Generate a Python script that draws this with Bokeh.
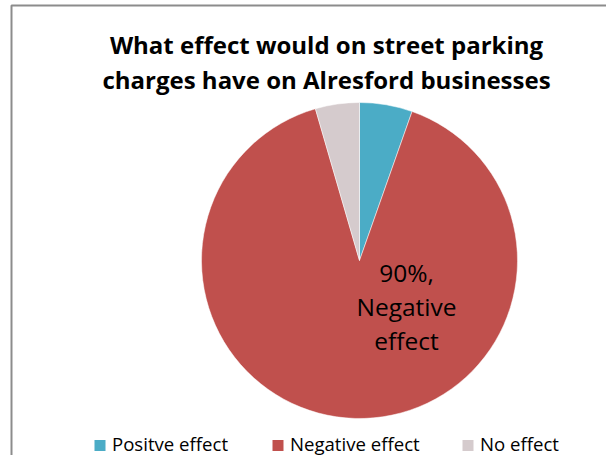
import math
from bokeh.plotting import figure
from bokeh.models import Range1d, ColumnDataSource
from bokeh.core.properties import value
from bokeh.embed import file_html
from bokeh.resources import INLINE

# ---- data ----
categories = ["Positve effect", "Negative effect", "No effect"]
shares = [5.4, 90.1, 4.5]
colors = ["#4BACC6", "#C0504D", "#D5CBCD"]
title_lines = ["What effect would on street parking", "charges have on Alresford businesses"]
slice_label = ["90%,", "Negative", "effect"]

W, H = 606, 455
def Y(py):  # screen y -> data y
    return H - py
def X(px):
    return px

p = figure(width=W, height=H, x_range=Range1d(0, W), y_range=Range1d(0, H),
           output_backend="svg", toolbar_location=None, min_border=0)
p.axis.visible = False
p.grid.visible = False
p.outline_line_color = None
p.background_fill_color = "white"

# chart border (left and top)
p.line([X(11), X(11), W + 5], [-5, Y(5), Y(5)], line_color="#8c8c8c", line_width=2)

# pie
total = sum(shares)
starts, ends = [], []
a = math.pi / 2
for s in shares:
    starts.append(a)
    a -= s / total * 2 * math.pi
    ends.append(a)
cx, cy, r = X(359), Y(260), 158
src = ColumnDataSource(dict(start=starts, end=ends, color=colors, cat=categories))
p.wedge(x=cx, y=cy, radius=r, start_angle="start", end_angle="end",
        direction="clock", fill_color="color", line_color="white", line_width=0.5,
        source=src)

# title
for i, t in enumerate(title_lines):
    p.text(x=[X(326)], y=[Y(44 + 35 * i)], text=[t], text_align="center",
           text_baseline="alphabetic", text_font=value("Open Sans"), text_font_style="bold",
           text_font_size="24px", text_color="#000000")

# data label
for i, t in enumerate(slice_label):
    p.text(x=[X(406)], y=[Y(272 + 34 * i)], text=[t], text_align="center",
           text_baseline="alphabetic", text_font=value("Open Sans"),
           text_font_size="24.5px", text_color="#000000")

# legend
leg_x = [94, 272, 462]
for lx, c, name in zip(leg_x, colors, categories):
    p.rect(x=[X(lx + 5.5)], y=[Y(445)], width=11, height=11, fill_color=c, line_color=None)
    p.text(x=[X(lx + 17.5)], y=[Y(443)], text=[name], text_align="left",
           text_baseline="alphabetic", text_font=value("Open Sans"),
           text_font_size="18.6px", text_color="#000000")

open("out.html", "w").write(file_html(p, INLINE))
